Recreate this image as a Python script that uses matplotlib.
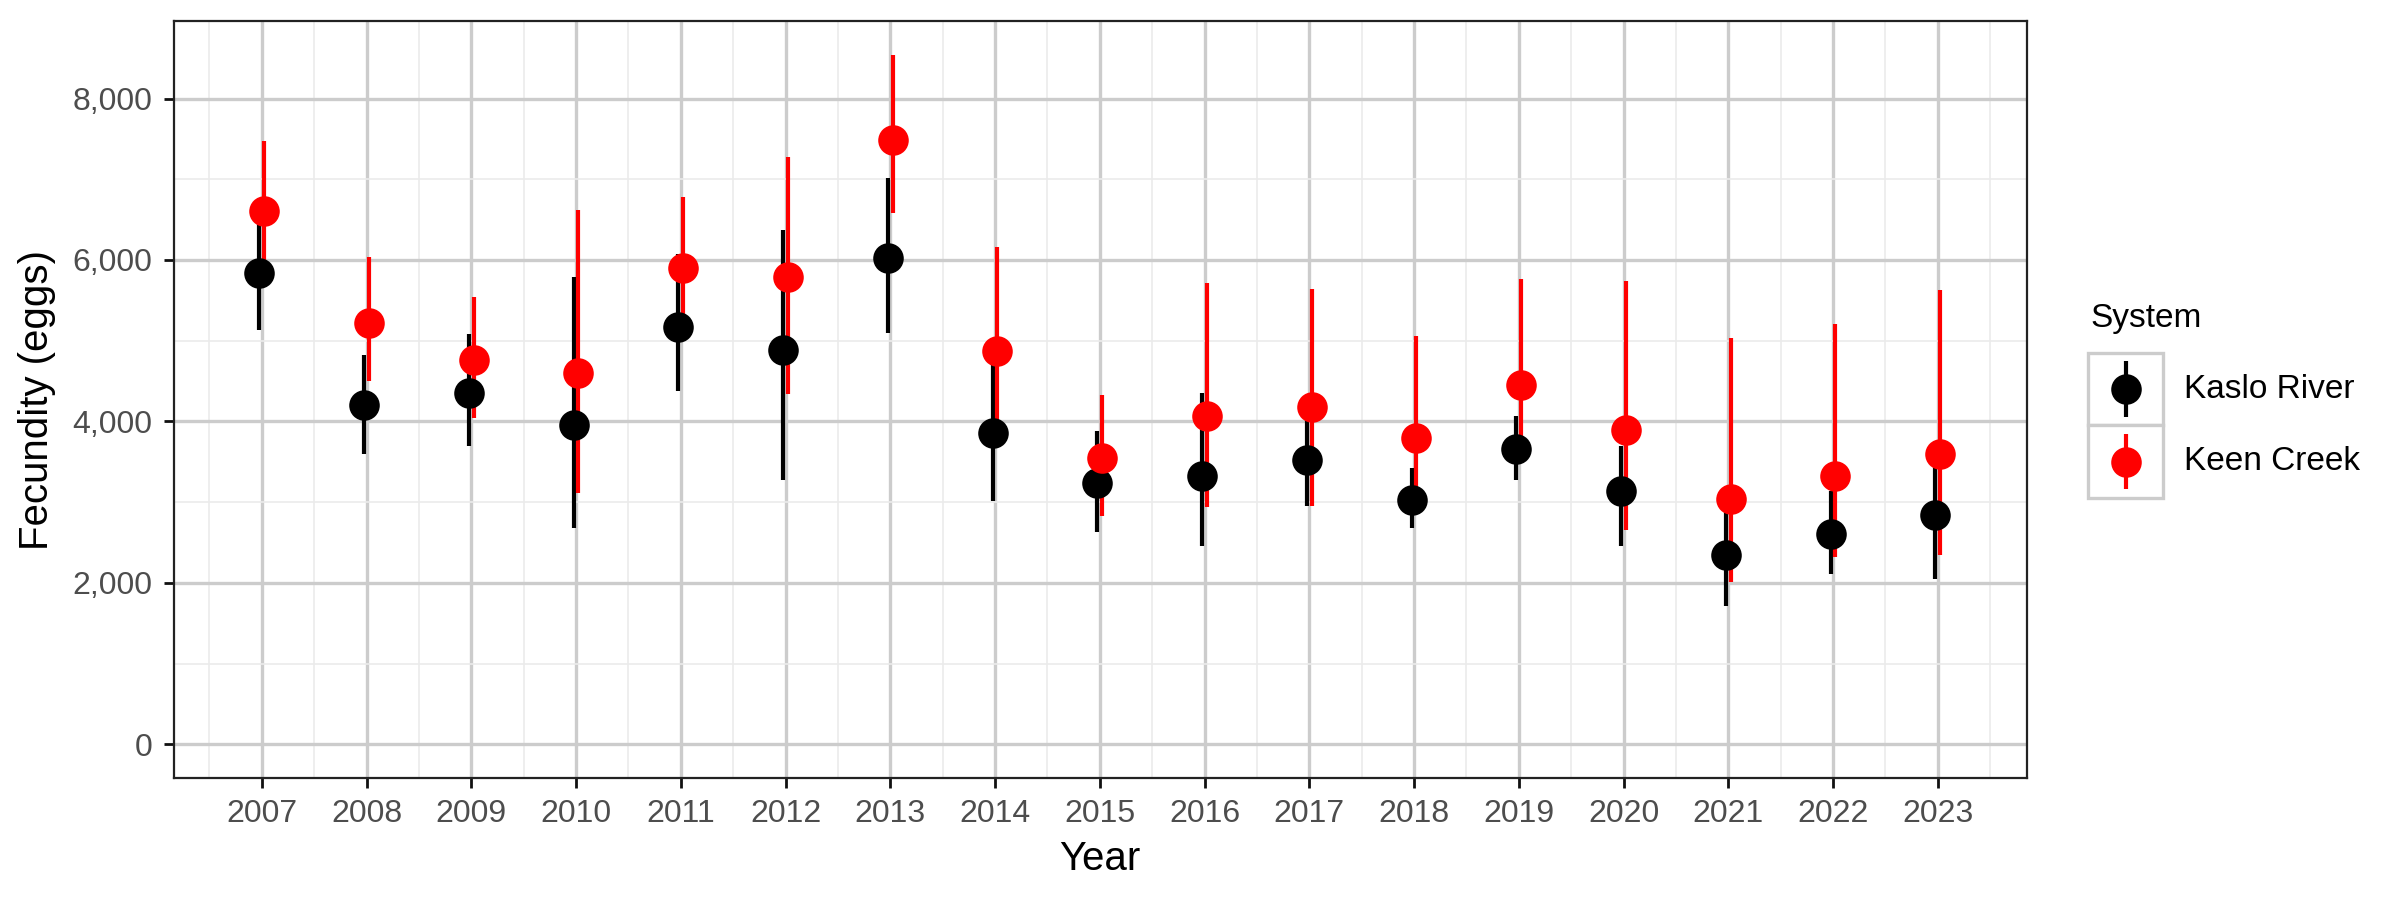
import matplotlib
matplotlib.use("Agg")
import matplotlib.pyplot as plt
from matplotlib.ticker import FixedLocator, StrMethodFormatter
from matplotlib.patches import Rectangle

plt.rcParams['font.family'] = ['Liberation Sans', 'DejaVu Sans']

# datos
years = list(range(2007, 2024))
kaslo_mean = [5840, 4200, 4355, 3960, 5175, 4890, 6020, 3855, 3240, 3320, 3520, 3025, 3660, 3140, 2350, 2605, 2845]
kaslo_lo = [5130, 3595, 3690, 2675, 4375, 3275, 5100, 3010, 2630, 2460, 2950, 2675, 3280, 2460, 1720, 2110, 2050]
kaslo_hi = [6550, 4820, 5085, 5790, 6080, 6375, 7020, 4750, 3885, 4355, 4050, 3420, 4065, 3700, 2900, 3140, 3450]
keen_mean = [6610, 5215, 4760, 4600, 5900, 5790, 7490, 4870, 3550, 4070, 4175, 3800, 4455, 3895, 3045, 3325, 3595]
keen_lo = [5950, 4495, 4040, 3110, 5150, 4345, 6580, 4000, 2835, 2945, 2950, 3150, 3750, 2660, 2015, 2315, 2345]
keen_hi = [7475, 6035, 5540, 6620, 6775, 7275, 8535, 6165, 4330, 5710, 5645, 5060, 5770, 5745, 5035, 5205, 5625]
systems = ["Kaslo River", "Keen Creek"]
colores = ["black", "#FF0000"]

fig = plt.figure(figsize=(12, 4.5), dpi=200)
ax = fig.add_axes([0.0724, 0.1356, 0.8445 - 0.0724, 0.9762 - 0.1356])

dodge = 0.022
series = [(kaslo_mean, kaslo_lo, kaslo_hi), (keen_mean, keen_lo, keen_hi)]
# primero todas las lineas, luego los puntos (como geom_pointrange)
for i, (m, lo, hi) in enumerate(series):
    xs = [y + (i - 0.5) * 2 * dodge for y in years]
    ax.vlines(xs, lo, hi, color=colores[i], lw=1.5, zorder=3)
for i, (m, lo, hi) in enumerate(series):
    xs = [y + (i - 0.5) * 2 * dodge for y in years]
    ax.plot(xs, m, 'o', color=colores[i], ms=11, mec='none', zorder=4 + i)

# ejes y rejilla
ax.set_xlim(2006.16, 2023.85)
ax.set_ylim(-416, 8955)
ax.xaxis.set_major_locator(FixedLocator(years))
ax.xaxis.set_minor_locator(FixedLocator([y + 0.5 for y in range(2006, 2024)]))
ax.yaxis.set_major_locator(FixedLocator([0, 2000, 4000, 6000, 8000]))
ax.yaxis.set_minor_locator(FixedLocator([1000, 3000, 5000, 7000]))
ax.yaxis.set_major_formatter(StrMethodFormatter('{x:,.0f}'))
ax.grid(which='major', color='#CCCCCC', lw=1.2, zorder=1)
ax.grid(which='minor', color='#EBEBEB', lw=0.6, zorder=0)
ax.set_axisbelow(True)
ax.tick_params(which='major', length=3.6, width=1.0, color='#111111',
               labelsize=11.5, labelcolor='#4D4D4D', pad=4)
ax.tick_params(which='minor', length=0)
for s in ax.spines.values():
    s.set_color('#222222')
    s.set_linewidth(0.8)

ax.set_xlabel("Year", fontsize=14.5, labelpad=4)
ax.set_ylabel("Fecundity (eggs)", fontsize=14.5, labelpad=6)

# leyenda manual
fig.text(2090.7 / 2400, 1 - 319 / 900, "System", fontsize=12, va='center', ha='left')
lax = fig.add_axes([2088 / 2400, 1 - 498 / 900, 75 / 2400, 145.3 / 900])
lax.set_xlim(0, 1)
lax.set_ylim(0, 2)
lax.axis('off')
for i, nombre in enumerate(systems):
    y0 = 1 - i
    lax.add_patch(Rectangle((0, y0), 1, 1, facecolor='white', edgecolor='#CCCCCC', lw=1.2, clip_on=False))
    lax.vlines(0.5, y0 + 0.12, y0 + 0.88, color=colores[i], lw=1.5)
    lax.plot(0.5, y0 + 0.5, 'o', color=colores[i], ms=11, mec='none')
    fig.text(2184 / 2400, 1 - (389 + 72.5 * i) / 900, nombre, fontsize=12, va='center', ha='left')

fig.savefig("out.png", dpi=200)
